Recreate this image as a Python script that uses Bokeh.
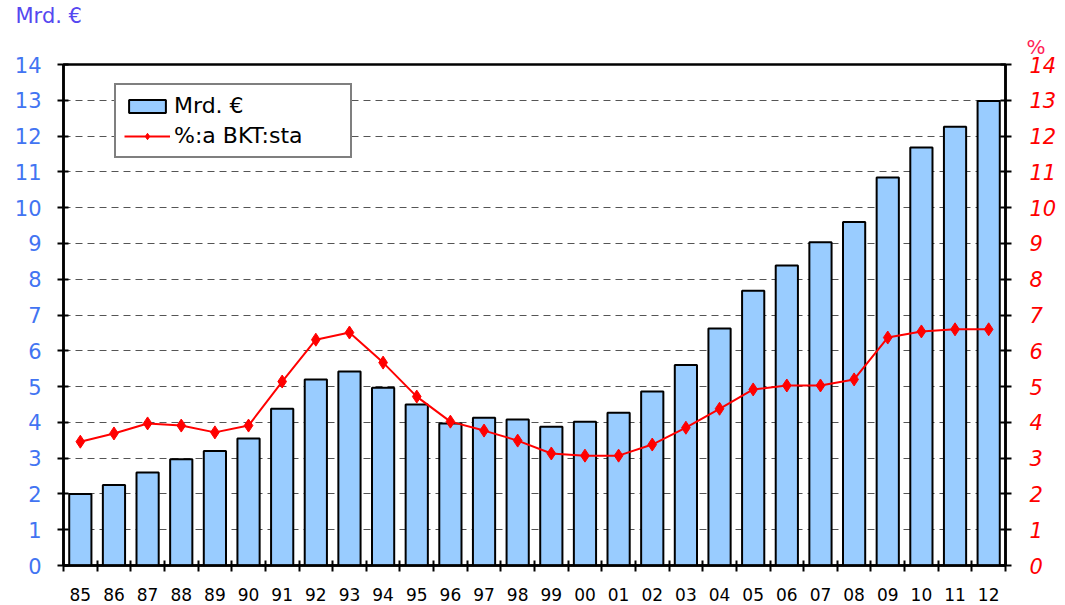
from bokeh.plotting import figure
from bokeh.models import (Range1d, LinearAxis, FixedTicker, Legend, LegendItem,
                          ColumnDataSource, Title)
from bokeh.embed import file_html
from bokeh.resources import INLINE

years = ["85", "86", "87", "88", "89", "90", "91", "92", "93", "94", "95", "96", "97", "98",
         "99", "00", "01", "02", "03", "04", "05", "06", "07", "08", "09", "10", "11", "12"]
mrd_eur = [2.0, 2.25, 2.6, 2.97, 3.2, 3.55, 4.38, 5.2, 5.42, 4.97, 4.5, 3.97, 4.13, 4.08,
           3.88, 4.02, 4.27, 4.86, 5.6, 6.62, 7.68, 8.38, 9.03, 9.6, 10.84, 11.68, 12.26, 12.98]
pct_bkt = [3.46, 3.69, 3.97, 3.91, 3.72, 3.91, 5.14, 6.31, 6.51, 5.67, 4.72, 4.02, 3.77, 3.49,
           3.13, 3.07, 3.07, 3.38, 3.85, 4.38, 4.92, 5.03, 5.03, 5.2, 6.37, 6.54, 6.6, 6.6]
y_ticks = list(range(0, 15))
left_title = "Mrd. €"
right_title = "%"
legend_bar = "Mrd. €"
legend_line = "%:a BKT:sta"

FONT = "DejaVu Sans"
n = len(years)
xc = [i + 0.5 for i in range(n)]
src = ColumnDataSource(dict(x=xc, mrd=mrd_eur, pct=pct_bkt))

p = figure(width=1065, height=605, output_backend="svg", toolbar_location=None,
           x_range=Range1d(0, n), y_range=Range1d(0, 14),
           min_border_left=63, min_border_right=60, min_border_top=64, min_border_bottom=40,
           x_axis_location=None, y_axis_location=None)
p.extra_y_ranges = {"pct": Range1d(0, 14)}
p.background_fill_color = "white"
p.border_fill_color = "white"
p.outline_line_color = "black"
p.outline_line_width = 2.5

# axes
xaxis = LinearAxis(ticker=FixedTicker(ticks=xc, minor_ticks=list(range(n + 1))))
xaxis.major_label_overrides = {xc[i]: years[i] for i in range(n)}
xaxis.major_tick_in = 0
xaxis.major_tick_out = 0
xaxis.minor_tick_in = 5
xaxis.minor_tick_out = 6
xaxis.minor_tick_line_color = "black"
xaxis.minor_tick_line_width = 2
xaxis.axis_line_width = 2.5
xaxis.major_label_text_font = FONT
xaxis.major_label_text_font_size = "17px"
xaxis.major_label_text_color = "black"
xaxis.major_label_standoff = 16
p.add_layout(xaxis, "below")

yl = LinearAxis(ticker=FixedTicker(ticks=y_ticks))
yl.major_tick_in = 5
yl.major_tick_out = 6
yl.major_tick_line_width = 2
yl.minor_tick_line_color = None
yl.axis_line_width = 2.5
yl.major_label_text_font = FONT
yl.major_label_text_font_size = "21px"
yl.major_label_text_color = "#4274f2"
yl.major_label_standoff = 16
p.add_layout(yl, "left")

yr = LinearAxis(y_range_name="pct", ticker=FixedTicker(ticks=y_ticks))
yr.major_tick_in = 5
yr.major_tick_out = 6
yr.major_tick_line_width = 2
yr.minor_tick_line_color = None
yr.axis_line_width = 2.5
yr.major_label_text_font = FONT
yr.major_label_text_font_size = "21px"
yr.major_label_text_font_style = "italic"
yr.major_label_text_color = "#ff0000"
yr.major_label_standoff = 18
p.add_layout(yr, "right")

p.xgrid.visible = False
p.ygrid.ticker = FixedTicker(ticks=y_ticks)
p.ygrid.grid_line_color = "#555555"
p.ygrid.grid_line_dash = "7 5"
p.ygrid.grid_line_width = 1.2

bars = p.vbar(x="x", top="mrd", width=0.66, source=src, fill_color="#99ccff",
              line_color="black", line_width=2)
ln = p.line(x="x", y="pct", source=src, y_range_name="pct", line_color="#ff0000", line_width=2)
sc = p.scatter(x="x", y="pct", source=src, y_range_name="pct", marker="diamond", size=13,
               fill_color="#ff0000", line_color="#ff0000")

legend = Legend(items=[LegendItem(label=legend_bar, renderers=[bars]),
                       LegendItem(label=legend_line, renderers=[ln, sc])],
                location=(51, 407), orientation="vertical")
legend.border_line_color = "black"
legend.border_line_width = 2
legend.background_fill_alpha = 1
legend.label_text_font = FONT
legend.label_text_font_size = "22px"
legend.label_text_color = "black"
legend.label_width = 168
legend.glyph_width = 46
legend.glyph_height = 16
legend.label_height = 24
legend.spacing = 5
legend.padding = 8
legend.margin = 0
legend.label_standoff = 4
p.add_layout(legend, "center")

# left unit title (outer row)
p.title.text = left_title
p.title.align = "left"
p.title.offset = -48
p.title.standoff = 0
p.title.text_font = FONT
p.title.text_font_size = "21px"
p.title.text_font_style = "normal"
p.title.text_color = "#5548f0"
# right unit title (inner row)
p.add_layout(Title(text=right_title, align="right", offset=-40, standoff=11,
                   text_font=FONT, text_font_size="20px", text_color="#ff2255",
                   text_font_style="normal"), "above")

open("out.html", "w").write(file_html(p, INLINE))
